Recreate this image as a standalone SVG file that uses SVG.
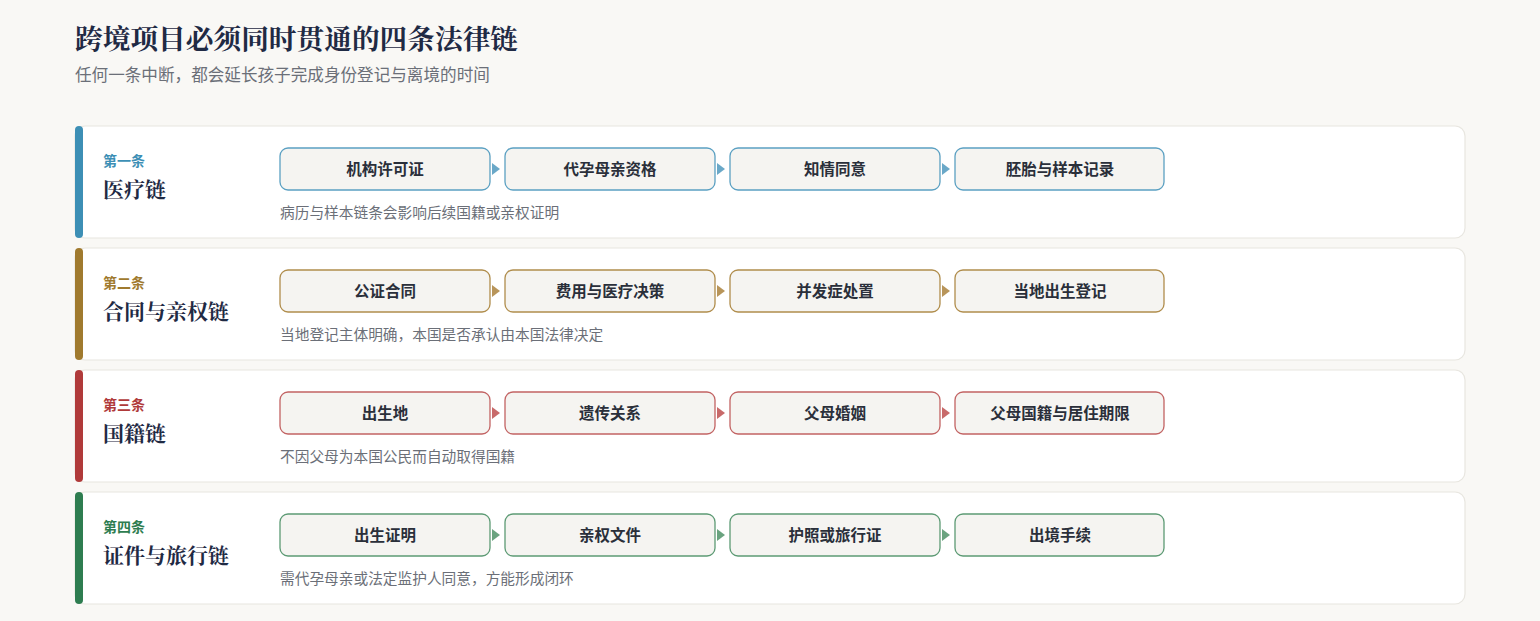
<svg xmlns="http://www.w3.org/2000/svg" width="1540" height="621" viewBox="0 0 1540 621">
<style>
.t{font-family:"Noto Sans CJK SC",sans-serif}
.card{fill:#fff;stroke:#e8e6e0;stroke-width:1.2}
.box{fill:#f5f4f1;stroke-width:1.3}
.bt{font-family:"Noto Sans CJK SC",sans-serif;font-size:15.5px;font-weight:700;fill:#2a2f3a;text-anchor:middle}
.lab{font-family:"Noto Sans CJK SC",sans-serif;font-size:14px;font-weight:700}
.ttl{font-family:"Noto Serif CJK SC","Noto Sans CJK SC",serif;font-size:21px;font-weight:700;fill:#1f2a44}
.note{font-family:"Noto Sans CJK SC",sans-serif;font-size:14.7px;fill:#6b6f78}
</style>
<rect width="1540" height="621" fill="#f9f8f5"/>
<text class="ttl" x="75" y="49" style="font-size:27.7px">跨境项目必须同时贯通的四条法律链</text>
<text class="note" x="75" y="81" style="font-size:16.6px">任何一条中断，都会延长孩子完成身份登记与离境的时间</text>

<g id="chain1">
<rect class="card" x="75" y="126" width="1390" height="112" rx="10"/>
<rect x="75" y="126" width="8" height="112" rx="4" fill="#3d8fb5"/>
<text class="lab" x="103" y="166" fill="#3d8fb5">第一条</text>
<text class="ttl" x="103" y="197">医疗链</text>
<g stroke="#5ba0c2"><rect class="box" x="280" y="148" width="210" height="42" rx="8"/><rect class="box" x="505" y="148" width="210" height="42" rx="8"/><rect class="box" x="730" y="148" width="210" height="42" rx="8"/><rect class="box" x="955" y="148" width="209" height="42" rx="8"/></g>
<text class="bt" x="385" y="175">机构许可证</text><text class="bt" x="610" y="175">代孕母亲资格</text><text class="bt" x="835" y="175">知情同意</text><text class="bt" x="1060" y="175">胚胎与样本记录</text>
<text class="note" x="280" y="218">病历与样本链条会影响后续国籍或亲权证明</text>
</g>

<g id="chain2">
<rect class="card" x="75" y="248" width="1390" height="112" rx="10"/>
<rect x="75" y="248" width="8" height="112" rx="4" fill="#a07a2e"/>
<text class="lab" x="103" y="288" fill="#a07a2e">第二条</text>
<text class="ttl" x="103" y="319">合同与亲权链</text>
<g stroke="#b08d4c"><rect class="box" x="280" y="270" width="210" height="42" rx="8"/><rect class="box" x="505" y="270" width="210" height="42" rx="8"/><rect class="box" x="730" y="270" width="210" height="42" rx="8"/><rect class="box" x="955" y="270" width="209" height="42" rx="8"/></g>
<text class="bt" x="385" y="297">公证合同</text><text class="bt" x="610" y="297">费用与医疗决策</text><text class="bt" x="835" y="297">并发症处置</text><text class="bt" x="1060" y="297">当地出生登记</text>
<text class="note" x="280" y="340">当地登记主体明确，本国是否承认由本国法律决定</text>
</g>

<g id="chain3">
<rect class="card" x="75" y="370" width="1390" height="112" rx="10"/>
<rect x="75" y="370" width="8" height="112" rx="4" fill="#b03a3a"/>
<text class="lab" x="103" y="410" fill="#b03a3a">第三条</text>
<text class="ttl" x="103" y="441">国籍链</text>
<g stroke="#c26363"><rect class="box" x="280" y="392" width="210" height="42" rx="8"/><rect class="box" x="505" y="392" width="210" height="42" rx="8"/><rect class="box" x="730" y="392" width="210" height="42" rx="8"/><rect class="box" x="955" y="392" width="209" height="42" rx="8"/></g>
<text class="bt" x="385" y="419">出生地</text><text class="bt" x="610" y="419">遗传关系</text><text class="bt" x="835" y="419">父母婚姻</text><text class="bt" x="1060" y="419">父母国籍与居住期限</text>
<text class="note" x="280" y="462">不因父母为本国公民而自动取得国籍</text>
</g>

<g id="chain4">
<rect class="card" x="75" y="492" width="1390" height="112" rx="10"/>
<rect x="75" y="492" width="8" height="112" rx="4" fill="#2e7d50"/>
<text class="lab" x="103" y="532" fill="#2e7d50">第四条</text>
<text class="ttl" x="103" y="563">证件与旅行链</text>
<g stroke="#5c9a74"><rect class="box" x="280" y="514" width="210" height="42" rx="8"/><rect class="box" x="505" y="514" width="210" height="42" rx="8"/><rect class="box" x="730" y="514" width="210" height="42" rx="8"/><rect class="box" x="955" y="514" width="209" height="42" rx="8"/></g>
<text class="bt" x="385" y="541">出生证明</text><text class="bt" x="610" y="541">亲权文件</text><text class="bt" x="835" y="541">护照或旅行证</text><text class="bt" x="1060" y="541">出境手续</text>
<text class="note" x="280" y="584">需代孕母亲或法定监护人同意，方能形成闭环</text>
</g>

<g id="connectors">
<g fill="#6aa8c8"><path d="M492 163 L500 169 L492 175Z"/><path d="M717 163 L725 169 L717 175Z"/><path d="M942 163 L950 169 L942 175Z"/></g>
<g fill="#b8955a"><path d="M492 285 L500 291 L492 297Z"/><path d="M717 285 L725 291 L717 297Z"/><path d="M942 285 L950 291 L942 297Z"/></g>
<g fill="#c86a6a"><path d="M492 407 L500 413 L492 419Z"/><path d="M717 407 L725 413 L717 419Z"/><path d="M942 407 L950 413 L942 419Z"/></g>
<g fill="#6aa37f"><path d="M492 529 L500 535 L492 541Z"/><path d="M717 529 L725 535 L717 541Z"/><path d="M942 529 L950 535 L942 541Z"/></g>
</g>
</svg>
